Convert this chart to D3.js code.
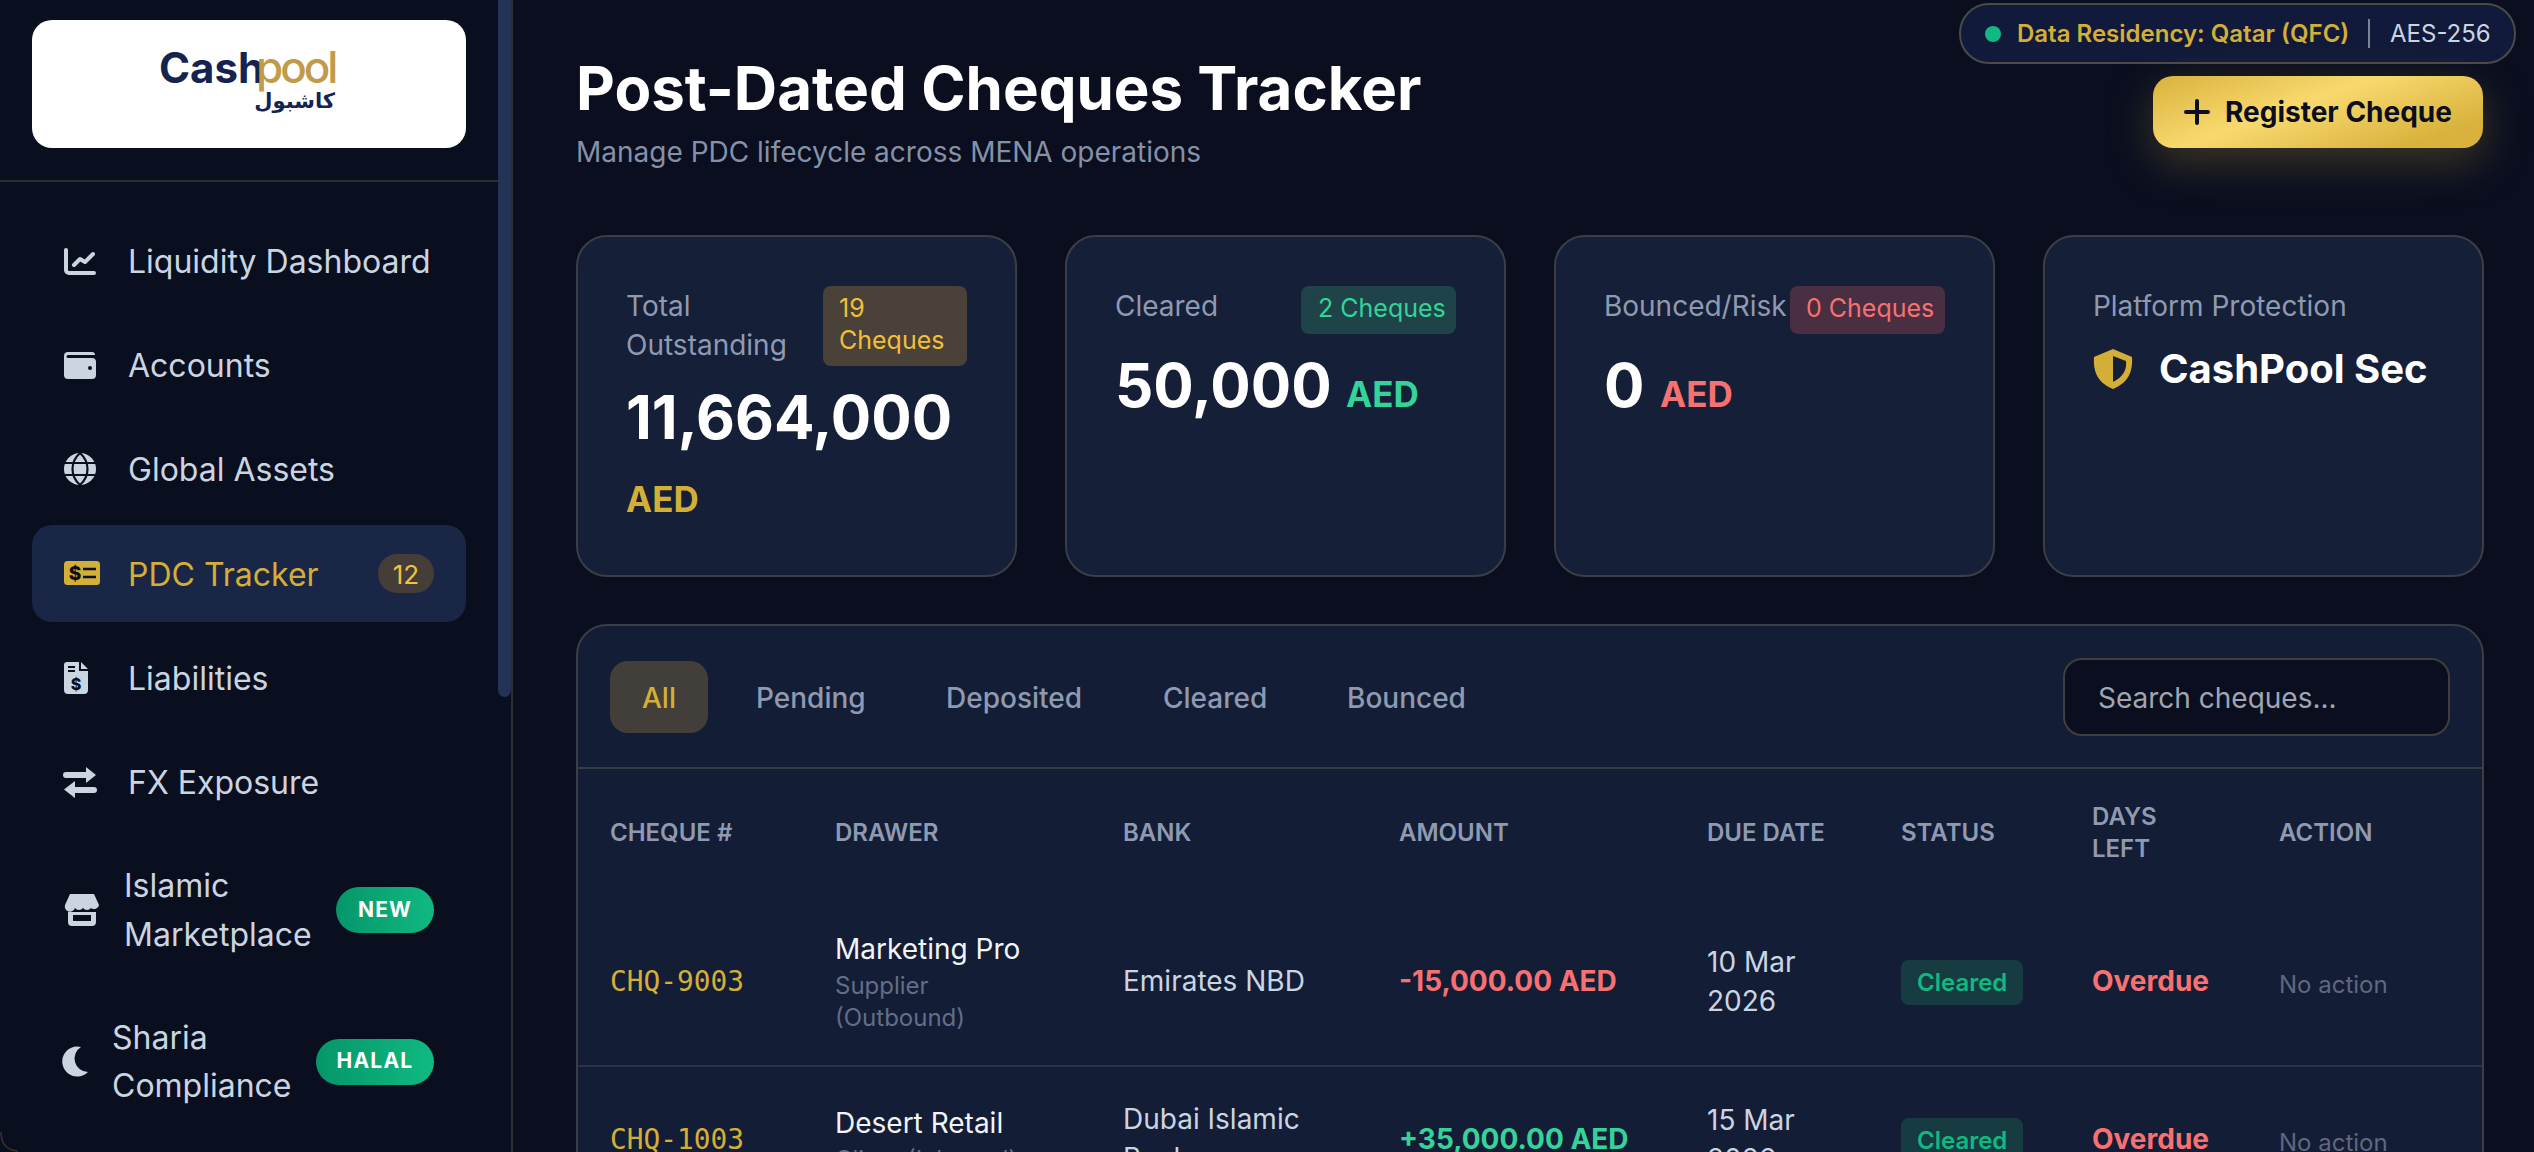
<!DOCTYPE html>
<html>
<head>
<meta charset="utf-8">
<title>Post-Dated Cheques Tracker</title>
<script src="https://d3js.org/d3.v7.min.js"></script>
<style>
  html, body { margin: 0; padding: 0; background: #0a0e1f; overflow: hidden; }
  text { font-family: Inter, "Noto Sans", sans-serif; }
</style>
</head>
<body>
<div id="app"></div>
<script>
/* Access data */
var navItems = ["Liquidity Dashboard", "Accounts", "Global Assets", "PDC Tracker", "Liabilities", "FX Exposure"];
var navWrapped = [["Islamic", "Marketplace"], ["Sharia", "Compliance"]];
var navPills = ["NEW", "HALAL"];
var pdcCount = 12;

var statLabels = ["Total Outstanding", "Cleared", "Bounced/Risk", "Platform Protection"];
var statValues = [11664000, 50000, 0];
var statCounts = [19, 2, 0];
var statCurrency = "AED";
var protectionName = "CashPool Sec";

var tabs = ["All", "Pending", "Deposited", "Cleared", "Bounced"];
var columns = ["CHEQUE #", "DRAWER", "BANK", "AMOUNT", "DUE DATE", "STATUS", "DAYS LEFT", "ACTION"];

var chequeIds = ["CHQ-9003", "CHQ-1003"];
var drawers = ["Marketing Pro", "Desert Retail"];
var drawerTypes = [["Supplier", "(Outbound)"], ["Client (Inbound)"]];
var banks = [["Emirates NBD"], ["Dubai Islamic", "Bank"]];
var amounts = [-15000, 35000];
var dueDates = [["10 Mar", "2026"], ["15 Mar", "2026"]];
var statuses = ["Cleared", "Cleared"];
var daysLeft = ["Overdue", "Overdue"];
var actions = ["No action", "No action"];

/* Colours */
var GOLD = "#d4af37", GREEN = "#34d399", RED = "#f87171", MUTED = "#8f9ab1", NAV = "#cbd5e1", BG = "#0a0e1f", CARD = "#161f38";

/* Draw canvas */
var svg = d3.select("#app").append("svg")
  .attr("width", 2534)
  .attr("height", 1152)
  .style("display", "block");

var defs = svg.append("defs");
var btn = defs.append("linearGradient").attr("id", "btnGold").attr("x1", 0).attr("y1", 0).attr("x2", 1).attr("y2", 0.6);
btn.append("stop").attr("offset", "0%").attr("stop-color", "#d8b23c");
btn.append("stop").attr("offset", "50%").attr("stop-color", "#f9d96f");
btn.append("stop").attr("offset", "100%").attr("stop-color", "#d8b23c");
var pill = defs.append("linearGradient").attr("id", "pillGreen");
pill.append("stop").attr("offset", "0%").attr("stop-color", "#059669");
pill.append("stop").attr("offset", "100%").attr("stop-color", "#10b981");

function label(g, str, x, y, size, fill, weight, extra) {
  var t = g.append("text").attr("x", x).attr("y", y)
    .attr("font-size", size).attr("fill", fill).attr("font-weight", weight || 400).text(str);
  if (extra && extra.ls) t.attr("letter-spacing", extra.ls);
  if (extra && extra.anchor) t.attr("text-anchor", extra.anchor);
  if (extra && extra.family) t.style("font-family", extra.family);
  return t;
}
function box(g, x0, y0, x1, y1, r, fill, stroke) {
  return g.append("rect").attr("x", x0).attr("y", y0).attr("width", x1 - x0).attr("height", y1 - y0)
    .attr("rx", r).attr("fill", fill).attr("stroke", stroke || "none").attr("stroke-width", stroke ? 2 : 0);
}

svg.append("rect").attr("width", 2534).attr("height", 1152).attr("fill", BG);

// sidebar
var side = svg.append("g");
side.append("rect").attr("width", 512).attr("height", 1152).attr("fill", "#0a0f1f");
side.append("rect").attr("x", 511).attr("width", 2).attr("height", 1152).attr("fill", "#2b2d33");
box(side, 498, -20, 511, 697, 7, "#243256");
side.append("rect").attr("y", 180).attr("width", 498).attr("height", 2).attr("fill", "#2d2e30");
side.append("path").attr("fill", "none").attr("stroke", "#3a3328").attr("stroke-width", 1.5).attr("d", "M1 1132Q1 1150 18 1151");

// logo
box(side, 32, 20, 466, 148, 20, "#ffffff");
label(side, "Cash", 159, 82.5, 42, "#14234f", 700);
label(side, "pool", 256, 82.5, 44, "#bf9b4a", 500, { ls: -3 });
label(side, "كاشبول", 335, 108, 21, "#14234f", 700, { anchor: "end", family: "'DejaVu Sans'" });

// nav
var navY = d3.scaleLinear().domain([0, 5]).range([273, 794]);
navItems.forEach(function (name, i) {
  var active = name === "PDC Tracker";
  if (active) box(side, 32, 525, 466, 622, 20, "#1a2645");
  label(side, name, 128, navY(i), 32, active ? GOLD : NAV, 400);
});
box(side, 378, 554, 434, 593, 19, "#453d38");
label(side, pdcCount, 406, 584, 26, "#f2c23e", 400, { anchor: "middle" });

[[124, [897, 946], 336, 887, 917], [112, [1049, 1097], 316, 1039, 1068]].forEach(function (p, i) {
  navWrapped[i].forEach(function (line, j) { label(side, line, p[0], p[1][j], 32, NAV, 400); });
  box(side, p[2], p[3], 434, p[3] + 46, 23, "url(#pillGreen)");
  label(side, navPills[i], (p[2] + 434) / 2, p[4], 21, "#ffffff", 700, { anchor: "middle", ls: 1.2 });
});

// nav icons
var ic = side.append("g").attr("fill", NAV);
ic.append("path").attr("fill", "none").attr("stroke", NAV).attr("stroke-width", 4).attr("stroke-linecap", "round").attr("stroke-linejoin", "round")
  .attr("d", "M66 250V270a3 3 0 0 0 3 3H94M74 265l6-6 5 3 8-8");
ic.append("path").attr("d", "M68 352H92a3 3 0 0 1 3 3H68a1.5 1.5 0 0 0 0 3H92a4 4 0 0 1 4 4V375a4 4 0 0 1-4 4H68a4 4 0 0 1-4-4V356a4 4 0 0 1 4-4Z");
ic.append("circle").attr("cx", 90).attr("cy", 368).attr("r", 2).attr("fill", BG);
ic.append("circle").attr("cx", 80).attr("cy", 469).attr("r", 16);
ic.append("path").attr("fill", "none").attr("stroke", "#0a0f1f").attr("stroke-width", 2.2)
  .attr("d", "M64 463H96M64 475H96M80 453C70 462 70 476 80 485C90 476 90 462 80 453Z");
box(ic, 64, 561, 100, 585, 3.5, GOLD);
label(ic, "$", 75, 580, 19, "#0a0f1f", 800, { anchor: "middle" });
ic.append("path").attr("fill", "none").attr("stroke", "#0a0f1f").attr("stroke-width", 2.6).attr("d", "M83 569H96M83 577H96");
ic.append("path").attr("d", "M67 662H79V671H88V690a4 4 0 0 1-4 4H68a4 4 0 0 1-4-4V665a3 3 0 0 1 3-3ZM81 662L88 669H81Z");
label(ic, "$", 76, 690, 16, "#0a0f1f", 800, { anchor: "middle" });
ic.append("path").attr("fill", "none").attr("stroke", "#0a0f1f").attr("stroke-width", 1.8).attr("d", "M68 667H75M68 671H75");
ic.append("path").attr("d", "M66 772H86V767L96 775L86 783V778H66a3 3 0 0 1 0-6ZM94 787H75V781L64 789.5L75 798V793H94a3 3 0 0 0 0-6Z");
ic.append("path").attr("d", "M70 894H94L99 905a5 5 0 0 1-8 3a5 5 0 0 1-8 0a5 5 0 0 1-8 0a5 5 0 0 1-10-3Z");
ic.append("path").attr("d", "M68 912H96V922a4 4 0 0 1-4 4H72a4 4 0 0 1-4-4ZM73 915V921H91V915Z").attr("fill-rule", "evenodd");
ic.append("path").attr("d", "M81 1047A15 15 0 1 0 88 1072A13.5 13.5 0 0 1 81 1047Z");

// header
var main = svg.append("g");
label(main, "Post-Dated Cheques Tracker", 576, 109.5, 60, "#ffffff", 700);
label(main, "Manage PDC lifecycle across MENA operations", 576, 162, 28, "#8591a8", 400);

box(main, 1960, 4, 2515, 63, 29, "#111a3a", "#4a4a48");
main.append("ellipse").attr("cx", 1993).attr("cy", 34).attr("rx", 8).attr("ry", 8).attr("fill", "#10b981");
label(main, "Data Residency: Qatar (QFC)", 2017, 42, 24, GOLD, 600);
main.append("rect").attr("x", 2368).attr("y", 19).attr("width", 2).attr("height", 29).attr("fill", "#7b8296");
label(main, "AES-256", 2390, 42, 24, NAV, 400);

box(main, 2153, 76, 2483, 148, 20, "url(#btnGold)").style("filter", "drop-shadow(0 14px 22px rgba(212,175,55,0.25))");
main.append("path").attr("stroke", BG).attr("stroke-width", 4).attr("stroke-linecap", "round").attr("d", "M2186 112H2208M2197 101V123");
label(main, "Register Cheque", 2225, 122, 28, BG, 700);

// stat cards
var statX = d3.scaleBand().domain(statLabels).range([577, 2483]).paddingInner(0.102);
var statFormat = d3.format(",");
var statColors = [GOLD, GREEN, RED];
var badgeFills = ["#4a4238", "#1e4449", "#4a2e42"];
var badgeText = ["#f2bf3a", GREEN, RED];
var cards = main.append("g");
statLabels.forEach(function (name, i) {
  box(cards, statX(name), 236, statX(name) + statX.bandwidth(), 576, 30, CARD, "#3b3e44");
});
var cardLeft = function (i) { return statX(statLabels[i]) + 49; };

label(cards, "Total", cardLeft(0), 316, 28, MUTED);
label(cards, "Outstanding", cardLeft(0), 355, 28, MUTED);
box(cards, 823, 286, 967, 366, 8, badgeFills[0]);
label(cards, statCounts[0], 839, 317, 25, badgeText[0]);
label(cards, "Cheques", 839, 349, 25, badgeText[0]);
label(cards, statFormat(statValues[0]), cardLeft(0), 439, 60, "#ffffff", 700);
label(cards, statCurrency, cardLeft(0), 512, 35, statColors[0], 700);

label(cards, statLabels[1], cardLeft(1), 316, 28, MUTED);
box(cards, 1301, 286, 1456, 334, 8, badgeFills[1]);
label(cards, statCounts[1] + " Cheques", 1318, 317, 25, badgeText[1]);
label(cards, statFormat(statValues[1]), cardLeft(1), 407, 60, "#ffffff", 700);
label(cards, statCurrency, 1346, 407, 35, statColors[1], 700);

label(cards, statLabels[2], cardLeft(2), 316, 28, MUTED);
box(cards, 1790, 286, 1945, 334, 8, badgeFills[2]);
label(cards, statCounts[2] + " Cheques", 1806, 317, 25, badgeText[2]);
label(cards, statFormat(statValues[2]), cardLeft(2), 407, 60, "#ffffff", 700);
label(cards, statCurrency, 1660, 407, 35, statColors[2], 700);

label(cards, statLabels[3], cardLeft(3), 316, 28, MUTED);
cards.append("path").attr("fill", GOLD).attr("fill-rule", "evenodd")
  .attr("d", "M2113 349L2132 357C2133 372 2128 383 2113 389C2098 383 2093 372 2094 357ZM2113 356V382C2123 377 2127 370 2126 361Z");
label(cards, protectionName, 2159, 383, 40, "#ffffff", 700);

// table card
var table = main.append("g");
box(table, 577, 625, 2483, 1200, 30, "#141d36", "#3b3e44");
box(table, 610, 661, 708, 733, 18, "#423f3b");
var tabX = d3.scaleOrdinal().domain(tabs).range([659, 756, 946, 1163, 1347]);
tabs.forEach(function (name, i) {
  label(table, name, tabX(name), 708, 28, i === 0 ? GOLD : MUTED, 500, i === 0 ? { anchor: "middle" } : null);
});
box(table, 2064, 659, 2449, 735, 18, "#0a0e1f", "#3f3f3c");
label(table, "Search cheques...", 2098, 708, 28, "#a0a6b1");
table.append("rect").attr("x", 578).attr("y", 767).attr("width", 1904).attr("height", 2).attr("fill", "#353b45");

var colX = d3.scaleOrdinal().domain(columns).range([610, 835, 1123, 1399, 1707, 1901, 2092, 2279]);
columns.forEach(function (name) {
  if (name === "DAYS LEFT") {
    label(table, "DAYS", colX(name), 825, 24, MUTED, 600);
    label(table, "LEFT", colX(name), 857, 24, MUTED, 600);
  } else {
    label(table, name, colX(name), 841, 24, MUTED, 600);
  }
});

// rows, y is the middle of the row
var rowY = d3.scaleLinear().domain([0, 1]).range([983, 1141]);
var amountFormat = d3.format("+,.2f");
table.append("rect").attr("x", 578).attr("y", 1065).attr("width", 1904).attr("height", 2).attr("fill", "#2a3244");

chequeIds.forEach(function (id, i) {
  var y = rowY(i);
  label(table, id, colX(columns[0]), y + 8, 27.8, GOLD, 400, { family: "'DejaVu Sans Mono'" });
  var drawerY = i === 0 ? y - 24 : y - 8;
  label(table, drawers[i], colX(columns[1]), drawerY, 28, "#f1f5f9", 400);
  drawerTypes[i].forEach(function (line, j) {
    label(table, line, colX(columns[1]), drawerY + 35 + j * 32, 24, "#626d87");
  });
  banks[i].forEach(function (line, j) {
    var off = banks[i].length === 1 ? 8 : -12 + j * 39;
    label(table, line, colX(columns[2]), y + off, 28, NAV);
  });
  var amt = amountFormat(amounts[i]).replace("\u2212", "-") + " AED";
  label(table, amt, colX(columns[3]), y + 8, 28, amounts[i] < 0 ? RED : GREEN, 700);
  dueDates[i].forEach(function (line, j) {
    label(table, line, colX(columns[4]), y - 11 + j * 39, 28, NAV);
  });
  box(table, colX(columns[5]), y - 23, colX(columns[5]) + 122, y + 22, 8, "#163c42");
  label(table, statuses[i], colX(columns[5]) + 16, y + 8, 24, "#10b981", 600);
  label(table, daysLeft[i], colX(columns[6]), y + 8, 28, RED, 700);
  label(table, actions[i], colX(columns[7]), y + 10, 24, "#5f687d");
});
</script>
</body>
</html>
